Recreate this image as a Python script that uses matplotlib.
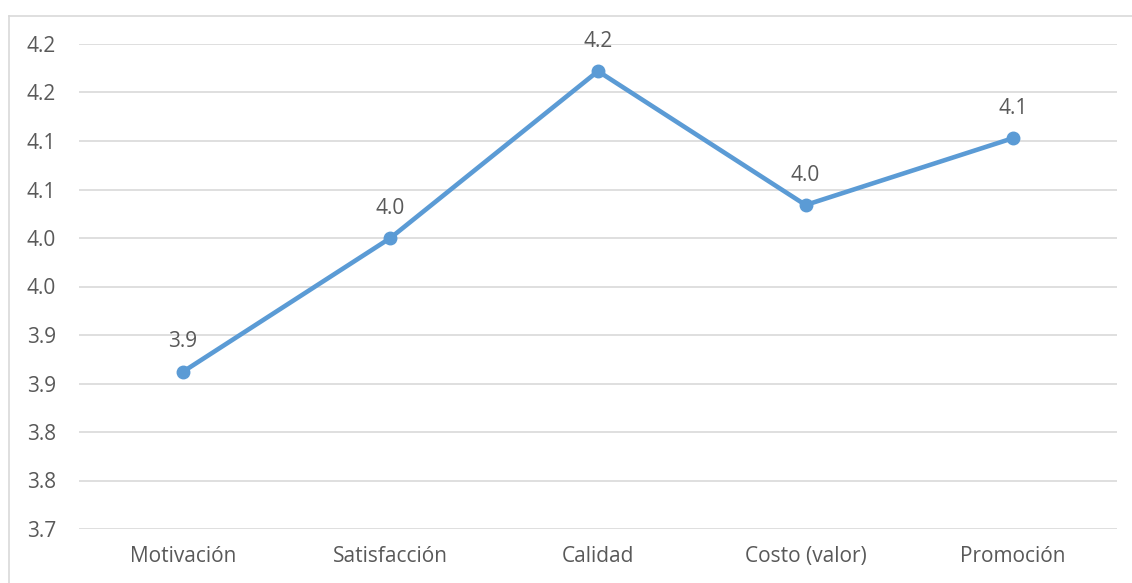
import matplotlib
matplotlib.use('Agg')
import matplotlib.pyplot as plt
from matplotlib.lines import Line2D

# Data
categories = ['Motivación', 'Satisfacción', 'Calidad', 'Costo (valor)', 'Promoción']
values = [3.862, 4.000, 4.172, 4.034, 4.103]
labels = ['3.9', '4.0', '4.2', '4.0', '4.1']
yticks = [3.70, 3.75, 3.80, 3.85, 3.90, 3.95, 4.00, 4.05, 4.10, 4.15, 4.20]
ytick_labels = ['3.7', '3.8', '3.8', '3.9', '3.9', '4.0', '4.0', '4.1', '4.1', '4.2', '4.2']

plt.rcParams['font.family'] = ['Open Sans', 'DejaVu Sans']
text_col = '#595959'

fig = plt.figure(figsize=(11.32, 5.83), dpi=100)
ax = fig.add_axes([79 / 1132, 1 - 529 / 583, (1117 - 79) / 1132, (529 - 44) / 583])

# outer chart border (only top and left visible, cropped)
bx, by = 8.5 / 1132, 1 - 15.5 / 583
fig.add_artist(Line2D([bx, 1.0], [by, by], transform=fig.transFigure,
                      color='#D9D9D9', linewidth=1.2))
fig.add_artist(Line2D([bx, bx], [0.0, by], transform=fig.transFigure,
                      color='#D9D9D9', linewidth=1.2))

x = list(range(len(categories)))
ax.plot(x, values, color='#5B9BD5', linewidth=3.3, marker='o',
        markersize=9, zorder=3)

for xi, v, lab in zip(x, values, labels):
    ax.annotate(lab, (xi, v), xytext=(0, 14), textcoords='offset points',
                ha='center', va='bottom', fontsize=15, color=text_col)

ax.set_xlim(-0.5, len(categories) - 0.5)
ax.set_ylim(3.70, 4.20)
ax.set_yticks(yticks)
ax.set_yticklabels(ytick_labels)
ax.set_xticks(x)
ax.set_xticklabels(categories)
ax.yaxis.grid(True, color='#D9D9D9', linewidth=1.2)
ax.set_axisbelow(True)
for s in ax.spines.values():
    s.set_visible(False)
ax.tick_params(axis='both', length=0, labelsize=15, labelcolor=text_col)
ax.tick_params(axis='y', pad=16.5)
ax.tick_params(axis='x', pad=12)

fig.savefig('out.png', dpi=100)
